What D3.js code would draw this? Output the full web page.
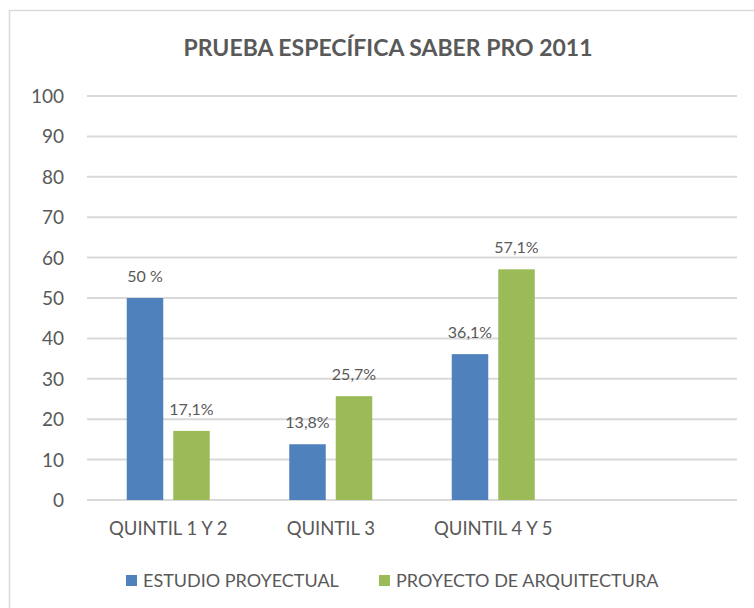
<!DOCTYPE html>
<html>
<head>
<meta charset="utf-8">
<script src="https://cdn.jsdelivr.net/npm/d3@7"></script>
<style>
	body { margin: 0; background: #fff; }
	svg text { font-family: Lato, "Open Sans", sans-serif; fill: #595959; }
	.grid line { stroke: #d9d9d9; stroke-width: 2; }
</style>
</head>
<body>
<svg id="svg"></svg>
<script>
const title = 'PRUEBA ESPECÍFICA SABER PRO 2011';
const categories = ['QUINTIL 1 Y 2', 'QUINTIL 3', 'QUINTIL 4 Y 5', ''];
const seriesNames = ['ESTUDIO PROYECTUAL', 'PROYECTO DE ARQUITECTURA'];
const estudio = [50, 13.8, 36.1, null];
const proyecto = [17.1, 25.7, 57.1, null];
const estudioLabels = ['50 %', '13,8%', '36,1%', ''];
const proyectoLabels = ['17,1%', '25,7%', '57,1%', ''];
const yTicks = [0, 10, 20, 30, 40, 50, 60, 70, 80, 90, 100];
const colors = ['#4f81bd', '#9bbb59'];

const width = 754;
const height = 608;
const svg = d3.select('#svg').attr('width', width).attr('height', height);

// chart frame
svg.append('rect')
	.attr('x', 9.5)
	.attr('y', 10.5)
	.attr('width', 760)
	.attr('height', 620)
	.attr('fill', 'none')
	.attr('stroke', '#d9d9d9')
	.attr('stroke-width', 1.5);

// title
svg.append('text')
	.attr('x', 388)
	.attr('y', 56)
	.attr('text-anchor', 'middle')
	.attr('font-size', 23)
	.attr('font-weight', 'bold')
	.text(title);

const x = d3.scaleBand()
	.domain(categories.map((c, i) => i))
	.range([87, 737]);

const y = d3.scaleLinear()
	.domain([0, 100])
	.range([500, 96]);

// gridlines
svg.append('g')
	.attr('class', 'grid')
	.selectAll('line')
		.data(yTicks)
		.enter()
	.append('line')
		.attr('x1', 87)
		.attr('x2', 737)
		.attr('y1', d => y(d))
		.attr('y2', d => y(d));

// y axis labels
svg.append('g')
	.selectAll('text')
		.data(yTicks)
		.enter()
	.append('text')
		.attr('x', 64)
		.attr('y', d => y(d) + 7)
		.attr('text-anchor', 'end')
		.attr('font-size', 19)
		.text(d => d);

// category labels
svg.append('g')
	.selectAll('text')
		.data(categories)
		.enter()
	.append('text')
		.attr('x', (d, i) => x(i) + x.bandwidth() / 2)
		.attr('y', 535)
		.attr('text-anchor', 'middle')
		.attr('font-size', 18.5)
		.text(d => d);

// bars, one group per series
const barWidth = 36.5;
const barGap = 10;
const series = [
	{ values: estudio, labels: estudioLabels, offset: -barGap / 2 - barWidth },
	{ values: proyecto, labels: proyectoLabels, offset: barGap / 2 }
];

series.forEach((s, si) => {
	const rows = s.values.map((v, i) => ({ i, v, label: s.labels[i] })).filter(r => r.v !== null);
	const g = svg.append('g');

	g.selectAll('rect')
			.data(rows)
			.enter()
		.append('rect')
			.attr('x', r => x(r.i) + x.bandwidth() / 2 + s.offset)
			.attr('y', r => y(r.v))
			.attr('width', barWidth)
			.attr('height', r => y(0) - y(r.v))
			.attr('fill', colors[si]);

	g.selectAll('text')
			.data(rows)
			.enter()
		.append('text')
			.attr('x', r => x(r.i) + x.bandwidth() / 2 + s.offset + barWidth / 2)
			.attr('y', r => y(r.v) - 16)
			.attr('text-anchor', 'middle')
			.attr('font-size', 16)
			.text(r => r.label);
});

// legend
const legend = svg.append('g');
const legendX = [126, 379];
seriesNames.forEach((name, i) => {
	legend.append('rect')
		.attr('x', legendX[i])
		.attr('y', 575)
		.attr('width', 11)
		.attr('height', 11)
		.attr('fill', colors[i]);
	legend.append('text')
		.attr('x', legendX[i] + 17)
		.attr('y', 587)
		.attr('font-size', 18)
		.text(name);
});
</script>
</body>
</html>
